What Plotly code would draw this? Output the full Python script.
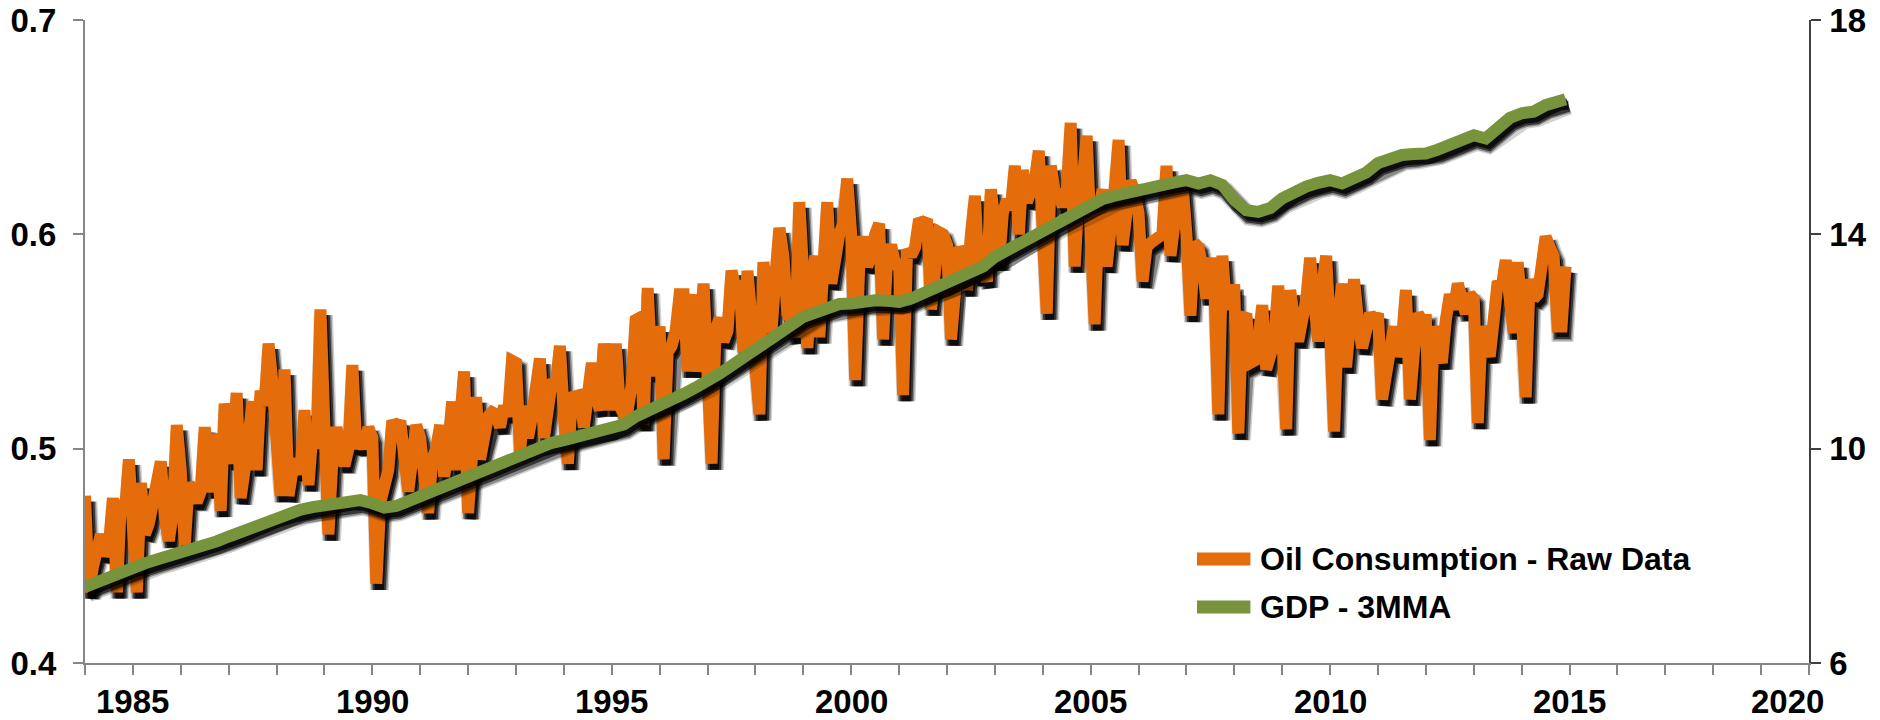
import plotly.graph_objects as go

# ---------------- data ----------------
start_year = 1984
# Oil consumption, raw monthly data, Jan 1984 .. Dec 2014 (left axis)
oil_consumption = [
    0.478, 0.433, 0.445, 0.455, 0.460, 0.450, 0.455, 0.477, 0.433, 0.476, 0.470, 0.495,  # 1984
    0.470, 0.433, 0.484, 0.460, 0.465, 0.475, 0.485, 0.494, 0.468, 0.457, 0.470, 0.511,  # 1985
    0.490, 0.455, 0.484, 0.480, 0.475, 0.480, 0.510, 0.490, 0.480, 0.507, 0.471, 0.521,  # 1986
    0.505, 0.493, 0.526, 0.477, 0.490, 0.505, 0.522, 0.490, 0.527, 0.520, 0.549, 0.530,  # 1987
    0.506, 0.478, 0.537, 0.478, 0.490, 0.495, 0.488, 0.518, 0.483, 0.507, 0.500, 0.565,  # 1988
    0.510, 0.460, 0.495, 0.510, 0.500, 0.492, 0.500, 0.539, 0.500, 0.506, 0.500, 0.510,  # 1989
    0.505, 0.437, 0.475, 0.485, 0.490, 0.513, 0.510, 0.513, 0.490, 0.480, 0.495, 0.511,  # 1990
    0.505, 0.490, 0.470, 0.495, 0.500, 0.511, 0.487, 0.500, 0.522, 0.490, 0.510, 0.536,  # 1991
    0.470, 0.490, 0.524, 0.495, 0.505, 0.515, 0.517, 0.516, 0.510, 0.520, 0.515, 0.541,  # 1992
    0.540, 0.498, 0.520, 0.505, 0.515, 0.530, 0.542, 0.505, 0.520, 0.532, 0.530, 0.548,  # 1993
    0.515, 0.493, 0.524, 0.524, 0.525, 0.510, 0.525, 0.540, 0.525, 0.518, 0.549, 0.530,  # 1994
    0.518, 0.549, 0.520, 0.516, 0.518, 0.530, 0.560, 0.561, 0.511, 0.575, 0.534, 0.545,  # 1995
    0.557, 0.495, 0.545, 0.548, 0.555, 0.572, 0.572, 0.536, 0.572, 0.536, 0.550, 0.577,  # 1996
    0.540, 0.493, 0.555, 0.561, 0.550, 0.555, 0.583, 0.575, 0.578, 0.545, 0.583, 0.565,  # 1997
    0.547, 0.516, 0.587, 0.565, 0.554, 0.580, 0.603, 0.590, 0.563, 0.560, 0.552, 0.615,  # 1998
    0.575, 0.547, 0.575, 0.590, 0.552, 0.585, 0.615, 0.577, 0.590, 0.600, 0.605, 0.626,  # 1999
    0.600, 0.532, 0.585, 0.599, 0.585, 0.590, 0.600, 0.605, 0.551, 0.590, 0.595, 0.586,  # 2000
    0.586, 0.525, 0.593, 0.590, 0.594, 0.607, 0.605, 0.607, 0.565, 0.590, 0.601, 0.600,  # 2001
    0.595, 0.551, 0.585, 0.594, 0.590, 0.574, 0.600, 0.618, 0.579, 0.585, 0.578, 0.621,  # 2002
    0.605, 0.586, 0.610, 0.616, 0.612, 0.632, 0.600, 0.630, 0.615, 0.620, 0.625, 0.639,  # 2003
    0.610, 0.563, 0.632, 0.620, 0.619, 0.613, 0.620, 0.652, 0.585, 0.620, 0.625, 0.646,  # 2004
    0.600, 0.558, 0.610, 0.621, 0.585, 0.600, 0.620, 0.644, 0.595, 0.610, 0.625, 0.620,  # 2005
    0.610, 0.578, 0.594, 0.596, 0.597, 0.598, 0.600, 0.632, 0.590, 0.605, 0.619, 0.624,  # 2006
    0.600, 0.562, 0.596, 0.594, 0.585, 0.570, 0.589, 0.575, 0.516, 0.590, 0.565, 0.574,  # 2007
    0.574, 0.507, 0.560, 0.563, 0.540, 0.541, 0.550, 0.567, 0.537, 0.545, 0.550, 0.576,  # 2008
    0.555, 0.509, 0.574, 0.560, 0.550, 0.560, 0.569, 0.589, 0.560, 0.550, 0.575, 0.590,  # 2009
    0.555, 0.508, 0.560, 0.577, 0.538, 0.565, 0.579, 0.560, 0.547, 0.555, 0.563, 0.560,  # 2010
    0.563, 0.523, 0.534, 0.550, 0.557, 0.543, 0.550, 0.574, 0.523, 0.545, 0.563, 0.560,  # 2011
    0.560, 0.504, 0.557, 0.548, 0.540, 0.560, 0.572, 0.565, 0.577, 0.570, 0.563, 0.572,  # 2012
    0.570, 0.512, 0.557, 0.550, 0.543, 0.560, 0.578, 0.575, 0.588, 0.570, 0.554, 0.587,  # 2013
    0.565, 0.524, 0.579, 0.570, 0.572, 0.585, 0.599, 0.594, 0.590, 0.557, 0.557, 0.585,  # 2014
]

# GDP 3MMA (right axis), read quarterly (Jan/Apr/Jul/Oct) 1984..2014 plus Dec 2014
gdp_3mma = [
    7.42, 7.52, 7.62, 7.71,   # 1984
    7.80, 7.86, 7.93, 7.99,   # 1985
    8.05, 8.12, 8.19, 8.27,   # 1986
    8.36, 8.45, 8.55, 8.64,   # 1987
    8.73, 8.80, 8.86, 8.91,   # 1988
    8.95, 9.00, 9.04, 9.04,   # 1989
    8.98, 8.90, 8.93, 9.02,   # 1990
    9.10, 9.20, 9.30, 9.38,   # 1991
    9.47, 9.57, 9.67, 9.76,   # 1992
    9.85, 9.95, 10.05, 10.11, # 1993
    10.16, 10.22, 10.27, 10.31,  # 1994
    10.35, 10.45, 10.60, 10.69,  # 1995
    10.78, 10.90, 11.02, 11.14,  # 1996
    11.25, 11.40, 11.55, 11.70,  # 1997
    11.84, 12.00, 12.17, 12.33,  # 1998
    12.46, 12.54, 12.62, 12.70,  # 1999
    12.71, 12.75, 12.77, 12.76,  # 2000
    12.74, 12.80, 12.90, 12.97,  # 2001
    13.05, 13.15, 13.27, 13.40,  # 2002
    13.58, 13.70, 13.83, 13.96,  # 2003
    14.08, 14.20, 14.33, 14.46,  # 2004
    14.58, 14.66, 14.72, 14.78,  # 2005
    14.83, 14.88, 14.93, 14.97,  # 2006
    15.01, 14.95, 15.01, 14.92,  # 2007
    14.64, 14.45, 14.42, 14.49,  # 2008
    14.67, 14.80, 14.89, 14.96,  # 2009
    15.01, 14.95, 15.05, 15.15,  # 2010
    15.33, 15.42, 15.48, 15.50,  # 2011
    15.51, 15.58, 15.67, 15.75,  # 2012
    15.85, 15.79, 15.98, 16.17,  # 2013
    16.26, 16.29, 16.41, 16.51,  # 2014
    16.52,                       # Dec 2014
]
gdp_month_index = list(range(0, 372, 3)) + [371]

left_range = [0.4, 0.7]
right_range = [6, 18]
x_range = [1984, 2020]
left_ticks = [0.4, 0.5, 0.6, 0.7]
left_tick_text = ["0.4", "0.5", "0.6", "0.7"]
right_ticks = [6, 10, 14, 18]
right_tick_text = ["6", "10", "14", "18"]
x_label_text = ["1985", "1990", "1995", "2000", "2005", "2010", "2015", "2020"]
x_label_pos = [1985, 1990, 1995, 2000, 2005, 2010, 2015, 2019.56]

series_names = ["Oil Consumption - Raw Data", "GDP - 3MMA"]
series_colors = ["#E46C0A", "#77933C"]

# --------------- geometry (page has an 8px body margin) ---------------
FIG_W, FIG_H = 1872, 712
M_L, M_R, M_T, M_B = 77, 71, 12, 57
plot_w = FIG_W - M_L - M_R
plot_h = FIG_H - M_T - M_B

# drop-shadow offset (pixels) converted to data units of each axis
SH_DX_PX, SH_DY_PX = 3, 6
sh_dx = SH_DX_PX * (x_range[1] - x_range[0]) / plot_w
sh_dy_left = SH_DY_PX * (left_range[1] - left_range[0]) / plot_h
sh_dy_right = SH_DY_PX * (right_range[1] - right_range[0]) / plot_h

oil_x = [start_year + i / 12 for i in range(len(oil_consumption))]
gdp_x = [start_year + m / 12 for m in gdp_month_index]

FONT = "Liberation Sans, Arial, sans-serif"
LW = 12

fig = go.Figure()

# shadow layers (soft) for a series: (width, alpha)
shadow_layers = [(LW + 7, 0.18), (LW + 4, 0.35), (LW + 1, 0.6), (LW - 3, 0.75)]


def add_series(xs, ys, color, name, yaxis, dy):
    for w, a in shadow_layers:
        fig.add_trace(go.Scatter(
            x=[v + sh_dx for v in xs], y=[v - dy for v in ys], mode="lines",
            line=dict(color=f"rgba(0,0,0,{a})", width=w), yaxis=yaxis,
            showlegend=False, hoverinfo="skip"))
    fig.add_trace(go.Scatter(x=xs, y=ys, mode="lines", name=name,
                             line=dict(color=color, width=LW), yaxis=yaxis,
                             showlegend=False, hoverinfo="skip"))


add_series(oil_x, oil_consumption, series_colors[0], series_names[0], "y", sh_dy_left)
add_series(gdp_x, gdp_3mma, series_colors[1], series_names[1], "y2", sh_dy_right)

tickfont = dict(family=FONT, size=33, color="black", weight="bold")

fig.update_layout(
    width=FIG_W, height=FIG_H,
    margin=dict(l=M_L, r=M_R, t=M_T, b=M_B, autoexpand=False),
    paper_bgcolor="white", plot_bgcolor="white",
    font=dict(family=FONT, size=32, color="black"),
    xaxis=dict(range=x_range, tick0=1984, dtick=1, ticks="outside", ticklen=10,
               tickwidth=1.5, tickcolor="#868686", showline=True, linecolor="#868686",
               linewidth=2, showgrid=False, zeroline=False, showticklabels=False,
               automargin=False),
    yaxis=dict(range=left_range, tickvals=left_ticks, ticktext=left_tick_text,
               ticks="outside", ticklen=10, tickwidth=1.5, tickcolor="#868686",
               showline=True, linecolor="#868686", linewidth=2, showgrid=False,
               zeroline=False, tickfont=tickfont, ticklabelstandoff=10,
               ticklabeloverflow="allow", automargin=False),
    yaxis2=dict(range=right_range, tickvals=right_ticks, ticktext=right_tick_text,
                overlaying="y", side="right", anchor="x",
                ticks="outside", ticklen=10, tickwidth=1.5, tickcolor="#404040",
                showline=True, linecolor="#404040", linewidth=1.5, showgrid=False,
                zeroline=False, tickfont=tickfont, ticklabelstandoff=2,
                ticklabeloverflow="allow", automargin=False),
    showlegend=False,
)

# x-axis labels
for pos, txt in zip(x_label_pos, x_label_text):
    fig.add_annotation(x=pos, xref="x", y=0, yref="paper", text=txt, showarrow=False,
                       yanchor="middle", xanchor="center", yshift=-38,
                       font=tickfont)

# manual legend
legend_rows_y = [0.1617, 0.0871]
for name, color, yy in zip(series_names, series_colors, legend_rows_y):
    fig.add_shape(type="line", xref="paper", yref="paper", x0=0.645, x1=0.676, y0=yy, y1=yy,
                  line=dict(color=color, width=13))
    fig.add_annotation(x=0.6806, y=yy, xref="paper", yref="paper", text=name,
                       showarrow=False, xanchor="left", yanchor="middle",
                       font=dict(family=FONT, size=32, color="black", weight="bold"))

fig.write_html("out.html", config={"displayModeBar": False})
